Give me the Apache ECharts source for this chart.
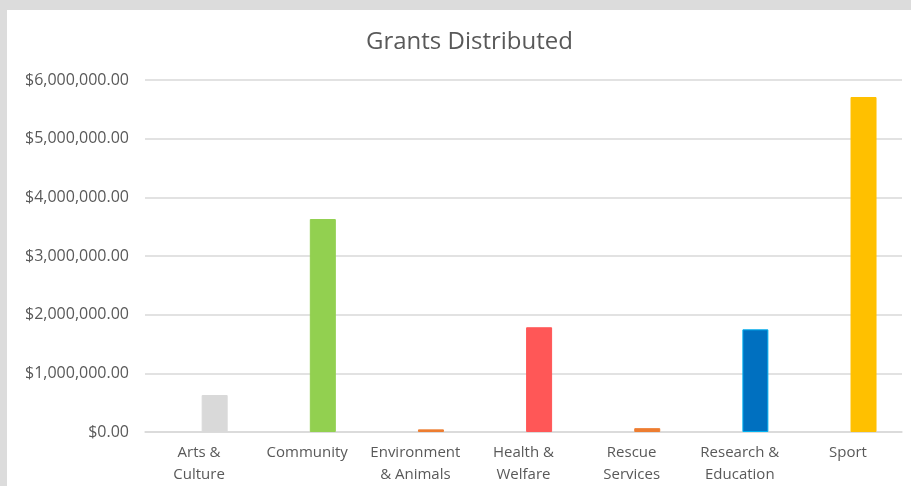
<!DOCTYPE html>
<html><head><meta charset="utf-8">
<script src="https://cdn.jsdelivr.net/npm/echarts@6/dist/echarts.min.js"></script>
<style>
html,body{margin:0;padding:0;background:#dcdcdc;width:911px;height:486px;overflow:hidden;}
#c{position:absolute;left:7px;top:10px;width:904px;height:476px;background:#fff;}
</style></head>
<body><div id="c"></div>
<script>
const categories = ["Arts &\nCulture","Community","Environment\n& Animals","Health &\nWelfare","Rescue\nServices","Research &\nEducation","Sport"];
const grants = [630000, 3630000, 45000, 1785000, 65000, 1750000, 5710000];
const barColors = ["#d9d9d9","#92d050","#ed7d31","#ff5757","#ed7d31","#0070c0","#ffc000"];
const barBorders = ["#d9d9d9","#92d050","#ed7d31","#ff5757","#ed7d31","#00b0f0","#ffc000"];
const yTicks = [0,1000000,2000000,3000000,4000000,5000000,6000000];

const chart = echarts.init(document.getElementById('c'));
const font = "'Open Sans', sans-serif";
chart.setOption({
  animation:false,
  title:{text:"Grants Distributed",left:354,top:15,
    textStyle:{fontFamily:font,fontSize:24,fontWeight:'normal',color:'#595959'}},
  grid:{left:138,right:9,top:70,bottom:54},
  xAxis:{type:'category',data:categories,
    axisLine:{lineStyle:{color:'#d9d9d9',width:1.5}},axisTick:{show:false},
    axisLabel:{interval:0,fontFamily:font,fontSize:15,color:'#595959',lineHeight:22,margin:10}},
  yAxis:{type:'value',min:yTicks[0],max:yTicks[yTicks.length-1],interval:1000000,
    axisLine:{show:false},axisTick:{show:false},
    splitLine:{lineStyle:{color:'#d9d9d9',width:1.5}},
    axisLabel:{fontFamily:font,fontSize:16,color:'#595959',margin:16,
      formatter:v=>'$'+v.toLocaleString('en-US',{minimumFractionDigits:2,maximumFractionDigits:2})}},
  series:[
    {type:'bar',data:categories.map(()=>null),barWidth:26,barGap:'20%'},
    {type:'bar',barWidth:26,barGap:'20%',
     data:grants.map((v,i)=>({value:v,itemStyle:{color:barColors[i],borderColor:barBorders[i],borderWidth:1}}))}
  ]
});
</script></body></html>
